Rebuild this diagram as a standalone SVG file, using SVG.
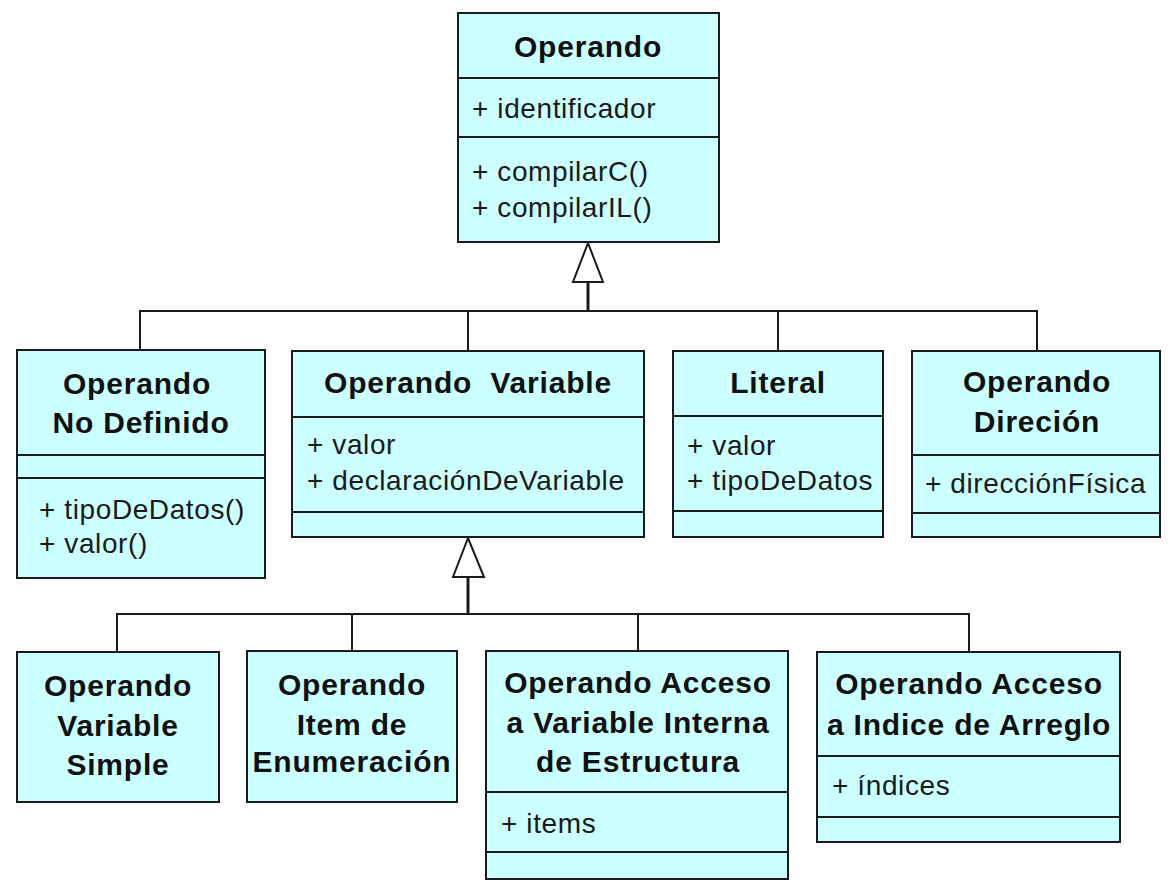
<svg xmlns="http://www.w3.org/2000/svg" width="1170" height="893" viewBox="0 0 1170 893">
<style>
.box{fill:#CCFFFF;stroke:#1a1a1a;stroke-width:2}
.sep{stroke:#1a1a1a;stroke-width:2}
.t{font-family:"Liberation Sans",Arial,sans-serif;font-weight:bold;font-size:30px;letter-spacing:0.8px;fill:#111;text-anchor:middle}
.a{font-family:"Liberation Sans",Arial,sans-serif;font-size:28px;letter-spacing:0.6px;fill:#1a1a1a}
.c{stroke:#1a1a1a;stroke-width:2;fill:none}
.stem{stroke:#1a1a1a;stroke-width:3;fill:none}
.tri{fill:#fff;stroke:#1a1a1a;stroke-width:2;stroke-linejoin:miter}
</style>
<rect width="1170" height="893" fill="#fff"/>
<g id="connectors">
<polyline class="c" points="140,350 140,311 1037,311 1037,351"/>
<line class="c" x1="468" y1="311" x2="468" y2="351"/>
<line class="c" x1="778" y1="311" x2="778" y2="351"/>
<line class="stem" x1="588" y1="282" x2="588" y2="312"/>
<polygon class="tri" points="588,243 573,282 603,282"/>
<polyline class="c" points="117,651 117,614 969,614 969,652"/>
<line class="c" x1="352" y1="614" x2="352" y2="651"/>
<line class="c" x1="638" y1="614" x2="638" y2="651"/>
<line class="stem" x1="468" y1="577" x2="468" y2="615"/>
<polygon class="tri" points="468,538 453,577 484,577"/>
</g>
<g id="operando">
<rect class="box" x="458" y="13" width="261" height="229"/>
<line class="sep" x1="458" y1="78" x2="719" y2="78"/>
<line class="sep" x1="458" y1="137" x2="719" y2="137"/>
<text class="t" x="588" y="57">Operando</text>
<text class="a" x="472" y="118">+ identificador</text>
<text class="a" x="472" y="181">+ compilarC()</text>
<text class="a" x="472" y="217">+ compilarIL()</text>
</g>
<g id="noDefinido">
<rect class="box" x="17" y="350" width="248" height="228"/>
<line class="sep" x1="17" y1="455" x2="265" y2="455"/>
<line class="sep" x1="17" y1="478" x2="265" y2="478"/>
<text class="t" x="137" y="394">Operando</text>
<text class="t" x="141" y="433">No Definido</text>
<text class="a" x="39" y="519">+ tipoDeDatos()</text>
<text class="a" x="39" y="553">+ valor()</text>
</g>
<g id="variable">
<rect class="box" x="292" y="351" width="352" height="186"/>
<line class="sep" x1="292" y1="417" x2="644" y2="417"/>
<line class="sep" x1="292" y1="512" x2="644" y2="512"/>
<text class="t" x="468" y="393" xml:space="preserve">Operando  Variable</text>
<text class="a" x="307" y="454">+ valor</text>
<text class="a" x="307" y="490">+ declaraciónDeVariable</text>
</g>
<g id="literal">
<rect class="box" x="673" y="351" width="210" height="186"/>
<line class="sep" x1="673" y1="416" x2="883" y2="416"/>
<line class="sep" x1="673" y1="511" x2="883" y2="511"/>
<text class="t" x="778" y="393">Literal</text>
<text class="a" x="687" y="455">+ valor</text>
<text class="a" x="687" y="490">+ tipoDeDatos</text>
</g>
<g id="direccion">
<rect class="box" x="912" y="351" width="248" height="186"/>
<line class="sep" x1="912" y1="455" x2="1160" y2="455"/>
<line class="sep" x1="912" y1="513" x2="1160" y2="513"/>
<text class="t" x="1037" y="392">Operando</text>
<text class="t" x="1037" y="432">Direción</text>
<text class="a" x="925" y="493">+ direcciónFísica</text>
</g>
<g id="variableSimple">
<rect class="box" x="17" y="652" width="202" height="150"/>
<text class="t" x="118" y="696">Operando</text>
<text class="t" x="118" y="736">Variable</text>
<text class="t" x="118" y="775">Simple</text>
</g>
<g id="itemEnumeracion">
<rect class="box" x="247" y="651" width="210" height="151"/>
<text class="t" x="352" y="695">Operando</text>
<text class="t" x="352" y="735">Item de</text>
<text class="t" x="352" y="772">Enumeración</text>
</g>
<g id="accesoEstructura">
<rect class="box" x="486" y="651" width="302" height="228"/>
<line class="sep" x1="486" y1="792" x2="788" y2="792"/>
<line class="sep" x1="486" y1="852" x2="788" y2="852"/>
<text class="t" x="638" y="693">Operando Acceso</text>
<text class="t" x="638" y="733">a Variable Interna</text>
<text class="t" x="638" y="772">de Estructura</text>
<text class="a" x="501" y="833">+ items</text>
</g>
<g id="accesoArreglo">
<rect class="box" x="817" y="652" width="303" height="190"/>
<line class="sep" x1="817" y1="756" x2="1120" y2="756"/>
<line class="sep" x1="817" y1="817" x2="1120" y2="817"/>
<text class="t" x="969" y="694">Operando Acceso</text>
<text class="t" x="969" y="735">a Indice de Arreglo</text>
<text class="a" x="832" y="795">+ índices</text>
</g>
</svg>
